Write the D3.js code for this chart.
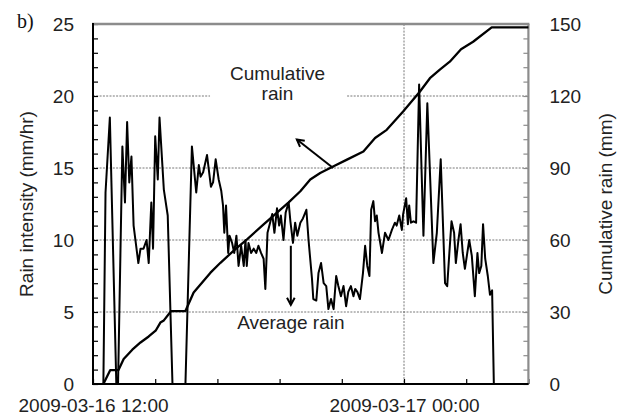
<!DOCTYPE html>
<html>
<head>
<meta charset="utf-8">
<title>Rain intensity and cumulative rain</title>
<script src="https://d3js.org/d3.v7.min.js"></script>
<style>
    body { margin: 0; background: #ffffff; }
    text {
        font-family: 'Liberation Sans', Arial, sans-serif;
        font-size: 19px;
        fill: #222222;
    }
    text.panel { font-family: 'Liberation Serif', 'Times New Roman', serif; font-size: 20px; fill: #111; }
    .grid line { stroke: #555555; stroke-width: 0.8; stroke-dasharray: 2,1.3; }
    path.domain { display: none; }
    .minorLeft .tick line, .minorBottom .tick line { stroke: #000; stroke-width: 1.2; }
    .minorRight .tick line { stroke: #8c8c8c; stroke-width: 1.2; }
</style>
</head>
<body>
<script>
    // rain intensity (mm/hr), time = minutes after 2009-03-16 12:00
    const rainMinutes = [0, 24, 29, 39, 45, 54, 58, 68, 74, 79, 84, 89, 94, 105, 110, 117, 124, 129, 135, 139,
        144, 150, 154, 164, 173, 184, 214, 229, 239, 245, 249, 255, 264, 273, 278, 284, 291, 297, 301, 304,
        308, 313, 316, 322, 327, 332, 337, 343, 349, 353, 356, 360, 366, 372, 378, 383, 389, 395, 399, 404,
        410, 415, 420, 426, 431, 435, 441, 446, 453, 457, 463, 468, 473, 480, 486, 494, 499, 507, 510, 517,
        522, 528, 534, 540, 545, 551, 557, 563, 568, 574, 580, 586, 591, 597, 603, 607, 612, 618, 625, 630,
        635, 640, 644, 649, 653, 657, 661, 669, 676, 684, 692, 699, 703, 709, 715, 718, 725, 729, 732, 736,
        742, 748, 755, 765, 774, 788, 796, 805, 815, 820, 825, 830, 836, 840, 846, 851, 856, 861, 871, 877,
        884, 890, 894, 899, 903, 908, 914, 919, 924, 928, 1008];
    const rainIntensity = [0, 0, 13.3, 18.5, 11.1, 0, 0, 16.5, 12.6, 18.2, 14.0, 15.8, 11.0, 8.4, 9.4, 9.4, 10.0, 8.4, 12.6, 9.4,
        17.2, 14.2, 18.5, 13.5, 11.7, 0, 0, 16.5, 13.3, 15.2, 14.4, 14.7, 15.9, 13.7, 14.0, 15.6, 14.2, 13.4, 12.4, 10.5,
        12.4, 9.1, 10.3, 9.8, 9.1, 10.3, 8.2, 9.6, 8.2, 10.0, 8.2, 9.8, 9.1, 9.4, 9.1, 9.6, 9.1, 8.7, 6.6, 10.5,
        11.2, 11.8, 10.5, 12.2, 11.0, 11.7, 10.0, 11.9, 12.6, 11.3, 9.8, 11.2, 10.3, 11.2, 11.5, 12.1, 10.0, 7.3, 5.9, 5.8,
        7.7, 8.4, 7.0, 6.8, 5.2, 5.9, 5.2, 7.5, 6.8, 6.1, 6.8, 5.4, 6.4, 6.8, 6.1, 6.6, 6.4, 5.9, 7.7, 9.6,
        8.2, 7.5, 12.1, 12.7, 11.3, 11.7, 10.5, 9.1, 10.5, 10.0, 10.7, 11.2, 11.0, 11.7, 10.7, 11.8, 12.9, 11.1, 12.4, 11.2,
        11.3, 11.2, 20.8, 10.3, 19.5, 8.4, 10.5, 15.6, 7.0, 6.8, 9.1, 11.3, 10.5, 8.4, 10.0, 11.1, 9.1, 8.0, 10.0, 8.9,
        6.1, 9.1, 7.7, 8.2, 11.1, 8.7, 7.5, 6.2, 6.5, 0, 0];

    // cumulative rain (mm)
    const cumMinutes = [24, 40, 59, 71, 91, 110, 129, 145, 156, 164, 181, 214, 233, 272, 295, 329, 356, 395,
        453, 480, 503, 526, 557, 588, 626, 653, 680, 718, 757, 780, 803, 826, 852, 880, 923, 1008];
    const cumRain = [0, 5.8, 5.8, 10.4, 14.3, 17.3, 19.8, 22.2, 25.6, 26.5, 30.4, 30.4, 38.1, 46.4, 50.5, 56.1, 60.2, 66.5,
        75.7, 80.3, 85.2, 87.9, 90.7, 93.5, 96.9, 102.5, 105.9, 113.5, 121.9, 127.4, 131.0, 134.3, 139.5, 142.6, 148.6, 148.6];

    const yTicks = [0, 5, 10, 15, 20, 25];
    const y2Ticks = [0, 30, 60, 90, 120, 150];
    const xLabels = ["2009-03-16 12:00", "2009-03-17 00:00"];

    const width = 632, height = 416;
    const plot = {left: 93, right: 528.4, top: 24, bottom: 384};

    const parse = d3.timeParse("%Y-%m-%d %H:%M");
    const fmt = d3.timeFormat("%Y-%m-%d %H:%M");
    const t0 = parse(xLabels[0]);
    const at = m => d3.timeMinute.offset(t0, m);

    const svg = d3.select("body").append("svg")
        .attr("width", width)
        .attr("height", height);

    let x = d3.scaleTime()
        .domain([t0, at(1008)])
        .range([plot.left, plot.right]);

    let y = d3.scaleLinear().domain([0, 25]).range([plot.bottom, plot.top]);
    let y2 = d3.scaleLinear().domain([0, 150]).range([plot.bottom, plot.top]);

    // gridlines
    let grid = svg.append("g").attr("class", "grid");
    grid.selectAll("line.h")
        .data([5, 10, 15, 20])
        .enter().append("line")
        .attr("x1", plot.left).attr("x2", plot.right)
        .attr("y1", d => y(d)).attr("y2", d => y(d));
    grid.append("line")
        .attr("x1", x(parse(xLabels[1]))).attr("x2", x(parse(xLabels[1])))
        .attr("y1", plot.top).attr("y2", plot.bottom);

    // white box behind "Cumulative rain"
    svg.append("rect")
        .attr("x", x(at(271)))
        .attr("width", x(at(588)) - x(at(271)))
        .attr("y", y(22.6))
        .attr("height", y(19.3) - y(22.6))
        .style("fill", "#fff");

    // minor ticks
    svg.append("g")
        .attr("class", "minorLeft")
        .attr("transform", `translate(${plot.left},0)`)
        .call(d3.axisRight(y).tickValues(d3.range(0, 26, 1)).tickSize(5).tickFormat(""));
    svg.append("g")
        .attr("class", "minorRight")
        .attr("transform", `translate(${plot.right},0)`)
        .call(d3.axisLeft(y2).tickValues(d3.range(0, 151, 6)).tickSize(5).tickFormat(""));
    svg.append("g")
        .attr("class", "minorBottom")
        .attr("transform", `translate(0,${plot.bottom})`)
        .call(d3.axisTop(x).tickValues(d3.range(0, 1009, 144).map(at)).tickSize(5).tickFormat(""));

    // frame
    svg.append("line").attr("x1", plot.left - 1).attr("x2", plot.right + 1).attr("y1", plot.top).attr("y2", plot.top)
        .style("stroke", "#8c8c8c").style("stroke-width", 2.4);
    svg.append("line").attr("x1", plot.right).attr("x2", plot.right).attr("y1", plot.top).attr("y2", plot.bottom)
        .style("stroke", "#8c8c8c").style("stroke-width", 2.2);
    svg.append("line").attr("x1", plot.left).attr("x2", plot.left).attr("y1", plot.top - 1).attr("y2", plot.bottom + 1)
        .style("stroke", "#000").style("stroke-width", 2);
    svg.append("line").attr("x1", plot.left - 1).attr("x2", plot.right).attr("y1", plot.bottom).attr("y2", plot.bottom)
        .style("stroke", "#000").style("stroke-width", 2);

    // series
    const rain = rainMinutes.map((m, i) => ({t: at(m), v: rainIntensity[i]}));
    const cum = cumMinutes.map((m, i) => ({t: at(m), v: cumRain[i]}));

    svg.append("path")
        .datum(rain)
        .attr("d", d3.line().x(d => x(d.t)).y(d => y(d.v)))
        .style("fill", "none").style("stroke", "#000")
        .style("stroke-width", 2).style("stroke-linejoin", "round");

    svg.append("path")
        .datum(cum)
        .attr("d", d3.line().x(d => x(d.t)).y(d => y2(d.v)))
        .style("fill", "none").style("stroke", "#000")
        .style("stroke-width", 2.3).style("stroke-linejoin", "round");

    // tick labels
    svg.append("g")
        .attr("transform", `translate(${plot.left},0)`)
        .call(d3.axisLeft(y).tickValues(yTicks).tickSize(0).tickPadding(19))
        .selectAll("text").style("font-size", "19px").style("font-family", null);
    svg.append("g")
        .attr("transform", `translate(${plot.right},0)`)
        .call(d3.axisRight(y2).tickValues(y2Ticks).tickSize(0).tickPadding(21))
        .selectAll("text").style("font-size", "19px").style("font-family", null);
    svg.append("g")
        .attr("transform", `translate(0,${plot.bottom})`)
        .call(d3.axisBottom(x).tickValues(xLabels.map(parse)).tickSize(0).tickPadding(15).tickFormat(fmt))
        .selectAll("text").style("font-size", "19px").style("font-family", null);

    // axis titles
    svg.append("text")
        .attr("transform", `translate(33,${(plot.top + plot.bottom) / 2}) rotate(-90)`)
        .style("text-anchor", "middle")
        .text("Rain intensity (mm/hr)");
    svg.append("text")
        .attr("transform", `translate(612,${(plot.top + plot.bottom) / 2}) rotate(-90)`)
        .style("text-anchor", "middle")
        .text("Cumulative rain (mm)");
    svg.append("text").attr("class", "panel")
        .attr("x", 17).attr("y", 28)
        .text("b)");

    // annotations
    svg.append("text")
        .attr("x", x(at(427))).attr("y", y(21.08))
        .style("text-anchor", "middle")
        .text("Cumulative");
    svg.append("text")
        .attr("x", x(at(427))).attr("y", y(19.7))
        .style("text-anchor", "middle")
        .text("rain");
    svg.append("text")
        .attr("x", x(at(458))).attr("y", y(3.85))
        .style("text-anchor", "middle")
        .text("Average rain");

    const arrow = (x1, y1, x2, y2) => {
        svg.append("line")
            .attr("x1", x1).attr("y1", y1).attr("x2", x2).attr("y2", y2)
            .style("stroke", "#000").style("stroke-width", 2);
        const a = Math.atan2(y2 - y1, x2 - x1), len = 8, spread = 0.5;
        svg.append("path")
            .attr("d", `M${x2 - len * Math.cos(a - spread)},${y2 - len * Math.sin(a - spread)}L${x2},${y2}L${x2 - len * Math.cos(a + spread)},${y2 - len * Math.sin(a + spread)}`)
            .style("fill", "none").style("stroke", "#000").style("stroke-width", 2);
    };
    arrow(x(at(556)), y2(90), x(at(472)), y2(101.9));
    arrow(x(at(458)), y(9.6), x(at(458)), y(5.5));
</script>
</body>
</html>
